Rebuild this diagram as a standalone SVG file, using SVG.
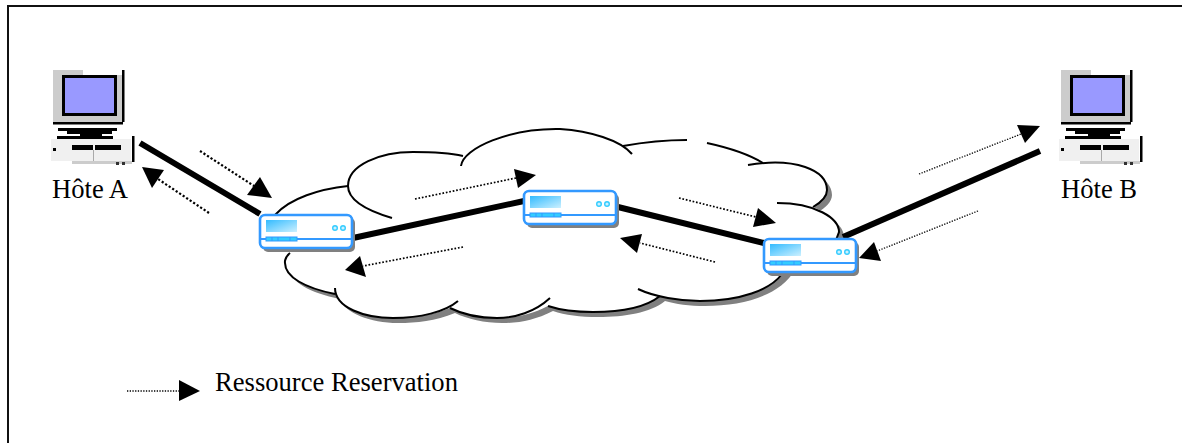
<svg xmlns="http://www.w3.org/2000/svg" width="1182" height="443" viewBox="0 0 1182 443">
<style>
.t{font-family:"Liberation Serif","Times New Roman",serif;font-size:26.6px;fill:#000}
.thick{stroke:#000;stroke-width:6;fill:none}
.dot{stroke:#000;stroke-width:1.7;stroke-dasharray:1.7 1.8;fill:none}
.dotb{stroke:#000;stroke-width:2.2;stroke-dasharray:2.2 2;fill:none}
.dots{stroke:#000;stroke-width:1.3;stroke-dasharray:1.3 1.4;fill:none}
.head{fill:#000}
.cl{fill:none;stroke:#000;stroke-width:2}
</style>
<defs>
<linearGradient id="g" x1="0" y1="0" x2="1" y2="1"><stop offset="0" stop-color="#33bbff"/><stop offset="1" stop-color="#ccf0ff"/></linearGradient>
<filter id="soft" x="-5%" y="-5%" width="110%" height="110%"><feGaussianBlur stdDeviation="0.4"/></filter>
<g id="pc" filter="url(#soft)">
<rect x="53" y="70" width="69" height="52" fill="#cccccc"/>
<rect x="83" y="70" width="39" height="5" fill="#fff"/>
<rect x="62" y="75" width="55" height="41" fill="#000"/>
<rect x="65" y="78" width="49" height="35" fill="#9999ff"/>
<rect x="122" y="70" width="2.5" height="52" fill="#000"/>
<rect x="53" y="122" width="70" height="2.5" fill="#000"/>
<rect x="58" y="128" width="59" height="3" fill="#000"/>
<rect x="67" y="131" width="45" height="3" fill="#000"/>
<rect x="80" y="134" width="22" height="3" fill="#000"/>
<rect x="57" y="136" width="56" height="3" fill="#000"/>
<rect x="51" y="139" width="80" height="22" fill="#f0f0f0"/>
<rect x="72" y="161" width="60" height="3" fill="#cccccc"/>
<rect x="132" y="136" width="2.5" height="26" fill="#000"/>
<rect x="72" y="145" width="21" height="5" fill="#000"/>
<rect x="95" y="145" width="26" height="5" fill="#000"/>
<rect x="93" y="150" width="1" height="11" fill="#aaa"/>
<rect x="53" y="148" width="3" height="3" fill="#000"/>
<rect x="116" y="162" width="3" height="3" fill="#333"/>
<rect x="122" y="162" width="3" height="3" fill="#333"/>
</g>
<g id="rt">
<rect x="263" y="218" width="92" height="34" rx="5" fill="#808080"/>
<rect x="260" y="215" width="92" height="33" rx="5" fill="#fff" stroke="#3399ff" stroke-width="2.6"/>
<rect x="266" y="220" width="31" height="12" fill="url(#g)"/>
<line x1="260" y1="239" x2="352" y2="239" stroke="#3399ff" stroke-width="1.8"/>
<rect x="266" y="237" width="31" height="4" fill="#33ccff" stroke="#3399ff"/>
<path d="M272,237v4M278,237v4M290,237v4" stroke="#3399ff" fill="none"/>
<circle cx="335" cy="228" r="2.3" fill="#ccf0ff" stroke="#33ccff" stroke-width="1.4"/>
<circle cx="343" cy="228" r="2.3" fill="#ccf0ff" stroke="#33ccff" stroke-width="1.4"/>
</g>
<path id="sil" d="M275,215 C290,198 320,189 348,186 C350,165 380,152 413,152 C435,152 450,153 463,156 C475,140 510,128 560,129 C590,131 615,140 632,150 C650,144 670,140 687,140 L707,143 C730,148 750,155 763,163 C795,160 827,170 827,190 C827,197 820,203 813,207 C825,212 839,220 839,232 L836,240 L790,265 C775,290 740,301 700,301 C685,301 670,299 660,296 C645,308 620,312 593,312 C575,312 560,310 548,306 C530,315 515,318 497,318 C480,318 462,314 450,308 C430,316 412,318 393,318 C365,318 340,308 335,294 C305,288 285,277 285,263 C285,258 287,254 290,250 Z"/>
</defs>
<rect x="0" y="0" width="1182" height="443" fill="#fff"/>
<path d="M8,443 V6 H1182" fill="none" stroke="#111" stroke-width="2"/>
<g id="cloud">
<use href="#sil" x="5" y="5" fill="#808080"/>
<use href="#sil" fill="#fff"/>
<path class="cl" d="M275,215 C290,198 320,189 348,186"/>
<path class="cl" d="M392,218 C365,210 348,200 348,186 C348,165 380,152 413,152 C435,152 450,153 463,156"/>
<path class="cl" d="M461,166 C463,148 510,128 560,129 C590,131 620,140 632,154"/>
<path class="cl" d="M623,146 C645,142 665,140 687,140"/>
<path class="cl" d="M707,143 C730,148 750,155 763,163"/>
<path class="cl" d="M748,165 C795,157 827,170 827,190 C827,197 820,203 813,207"/>
<path class="cl" d="M777,203 C815,203 839,218 839,232 L836,240"/>
<path class="cl" d="M638,289 C655,297 680,301 700,301 C740,301 770,290 782,274"/>
<path class="cl" d="M660,296 C645,308 620,312 593,312 C575,312 560,310 548,306"/>
<path class="cl" d="M550,298 C535,312 515,318 497,318 C480,318 462,314 450,308"/>
<path class="cl" d="M458,301 C445,312 420,318 393,318 C365,318 335,308 335,288"/>
<path class="cl" d="M290,253 C284,258 285,263 285,263 C285,277 305,288 335,294"/>
</g>
<g id="connectors">
<line class="thick" x1="140" y1="143" x2="260" y2="214"/>
<line class="thick" x1="353" y1="238" x2="524" y2="201"/>
<line class="thick" x1="618" y1="207" x2="764" y2="243"/>
<line class="thick" x1="843" y1="237" x2="1040" y2="151"/>
<line class="dotb" x1="200" y1="151" x2="254" y2="186"/><polygon class="head" points="272,198 260,177 247,195"/>
<line class="dotb" x1="209" y1="213" x2="158" y2="179"/><polygon class="head" points="142,167 164,170 152,188"/>
<line class="dot" x1="415" y1="199" x2="516" y2="178"/><polygon class="head" points="536,175 514,169 518,188"/>
<line class="dot" x1="463" y1="247" x2="363" y2="266"/><polygon class="head" points="345,270 360,256 366,277"/>
<line class="dot" x1="679" y1="198" x2="756" y2="217"/><polygon class="head" points="776,223 758,208 753,227"/>
<line class="dot" x1="715" y1="262" x2="640" y2="243"/><polygon class="head" points="620,238 642,234 637,253"/>
<line class="dots" x1="919" y1="174" x2="1021" y2="134"/><polygon class="head" points="1040,126 1017,125 1025,143"/>
<line class="dots" x1="978" y1="211" x2="877" y2="251"/><polygon class="head" points="859,258 874,242 881,261"/>
<line class="dots" x1="127" y1="391" x2="179" y2="391"/><polygon class="head" points="200,391 179,380 179,401"/>
</g>
<g id="router1"><use href="#rt"/></g>
<g id="router2"><use href="#rt" x="264" y="-24"/></g>
<g id="router3"><use href="#rt" x="504" y="24"/></g>
<g id="hostA"><use href="#pc"/><text class="t" x="52" y="198">Hôte A</text></g>
<g id="hostB"><use href="#pc" x="1008"/><text class="t" x="1061" y="198">Hôte B</text></g>
<g id="legend"><text class="t" x="215" y="391">Ressource Reservation</text></g>
</svg>
